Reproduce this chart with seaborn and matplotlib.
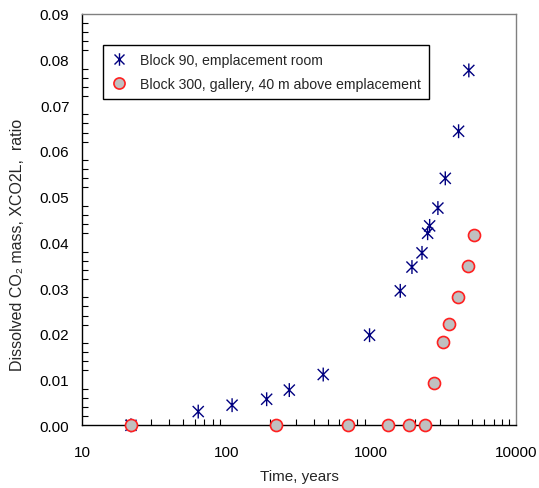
import numpy as np
import pandas as pd
import matplotlib
matplotlib.use("Agg")
import matplotlib.pyplot as plt
import seaborn as sns
from matplotlib.path import Path
from matplotlib.lines import Line2D
from matplotlib.ticker import FixedLocator, LogLocator, MultipleLocator, FuncFormatter, NullFormatter

# ---- data ----
b90_time = [21.8, 63.6, 109, 189, 271, 465, 972, 1585, 1909, 2240, 2450, 2530, 2885, 3245, 4010, 4720]
b90_xco2 = [0.0, 0.0030, 0.0044, 0.0057, 0.0077, 0.0111, 0.0197, 0.0294, 0.0346, 0.0377,
            0.0420, 0.0436, 0.0475, 0.0540, 0.0643, 0.0776]
b300_time = [21.8, 218, 692, 1303, 1820, 2345, 2693, 3112, 3437, 3963, 4655, 5095]
b300_xco2 = [0.0, 0.0, 0.0, 0.0, 0.0, 0.0, 0.0093, 0.0182, 0.0222, 0.0281, 0.0348, 0.0416]
series_labels = ["Block 90, emplacement room", "Block 300, gallery, 40 m above emplacement"]
x_ticks = [10, 100, 1000, 10000]
y_ticks = [0.00, 0.01, 0.02, 0.03, 0.04, 0.05, 0.06, 0.07, 0.08, 0.09]

sns.set_theme(style="white")
plt.rcParams['font.family'] = ['Liberation Sans', 'DejaVu Sans']

df90 = pd.DataFrame({"t": b90_time, "x": b90_xco2})
df300 = pd.DataFrame({"t": b300_time, "x": b300_xco2})

fig = plt.figure(figsize=(5.39, 4.89), dpi=100)
ax = fig.add_axes([82/539, 1-426.3/489, (516-82)/539, (426.3-14.7)/489])

# Excel-style star: X plus vertical bar
star = Path([(-1, -1), (1, 1), (-1, 1), (1, -1), (0, -1.25), (0, 1.25)],
            [Path.MOVETO, Path.LINETO, Path.MOVETO, Path.LINETO, Path.MOVETO, Path.LINETO])

sns.scatterplot(data=df90, x="t", y="x", ax=ax, marker=star, s=100,
                facecolors="none", edgecolor="#000080", linewidth=1.0, clip_on=False, zorder=4)
sns.scatterplot(data=df300, x="t", y="x", ax=ax, marker="o", s=75,
                color="#c0c0c0", edgecolor="#ff2020", linewidth=1.2, clip_on=False, zorder=5)

ax.set_xscale("log")
ax.set_xlim(10, 10000)
ax.set_ylim(0, 0.09)
ax.xaxis.set_major_locator(FixedLocator(x_ticks))
ax.xaxis.set_major_formatter(FuncFormatter(lambda v, p: f"{int(round(v))}"))
ax.xaxis.set_minor_locator(LogLocator(base=10, subs=np.arange(2, 10)))
ax.xaxis.set_minor_formatter(NullFormatter())
ax.yaxis.set_major_locator(FixedLocator(y_ticks))
ax.yaxis.set_major_formatter(FuncFormatter(lambda v, p: f"{v:.2f}"))
ax.yaxis.set_minor_locator(MultipleLocator(0.002))

ax.tick_params(axis="both", which="major", labelsize=11, colors="black", width=1, length=5)
ax.tick_params(axis="x", which="major", direction="inout", length=8, pad=10, color="#404040", width=1.3)
ax.tick_params(axis="y", which="major", direction="out", length=5, pad=4)
ax.tick_params(axis="x", which="minor", direction="in", length=4, width=0.8, color="black", bottom=True)
ax.tick_params(axis="y", which="minor", direction="in", length=4, width=0.8, color="black", left=True)

for s in ["left", "bottom"]:
    ax.spines[s].set_color("black")
    ax.spines[s].set_linewidth(1.0)
for s in ["top", "right"]:
    ax.spines[s].set_color("#808080")
    ax.spines[s].set_linewidth(1.0)

ax.set_xlabel("Time, years", fontsize=11)
ax.xaxis.set_label_coords(0.5, -0.106)
ax.set_ylabel("Dissolved CO\u2082 mass, XCO2L,  ratio", fontsize=11.5)
ax.yaxis.set_label_coords(-0.131, 0.44)

handles = [
    Line2D([], [], linestyle="none", marker=star, markersize=9, markerfacecolor="none",
           markeredgecolor="#000080", markeredgewidth=1.0),
    Line2D([], [], linestyle="none", marker="o", markersize=8, markerfacecolor="#c0c0c0",
           markeredgecolor="#ff2020", markeredgewidth=1.2),
]
leg = ax.legend(handles, series_labels, loc="upper left", bbox_to_anchor=(0.048, 0.924),
                borderaxespad=0, frameon=True, fancybox=False, shadow=False, framealpha=1,
                edgecolor="black", fontsize=10.2, handlelength=1.2, handletextpad=0.9,
                labelspacing=0.72, borderpad=0.55)
leg.get_frame().set_linewidth(1.0)

fig.savefig("out.png", dpi=100)
